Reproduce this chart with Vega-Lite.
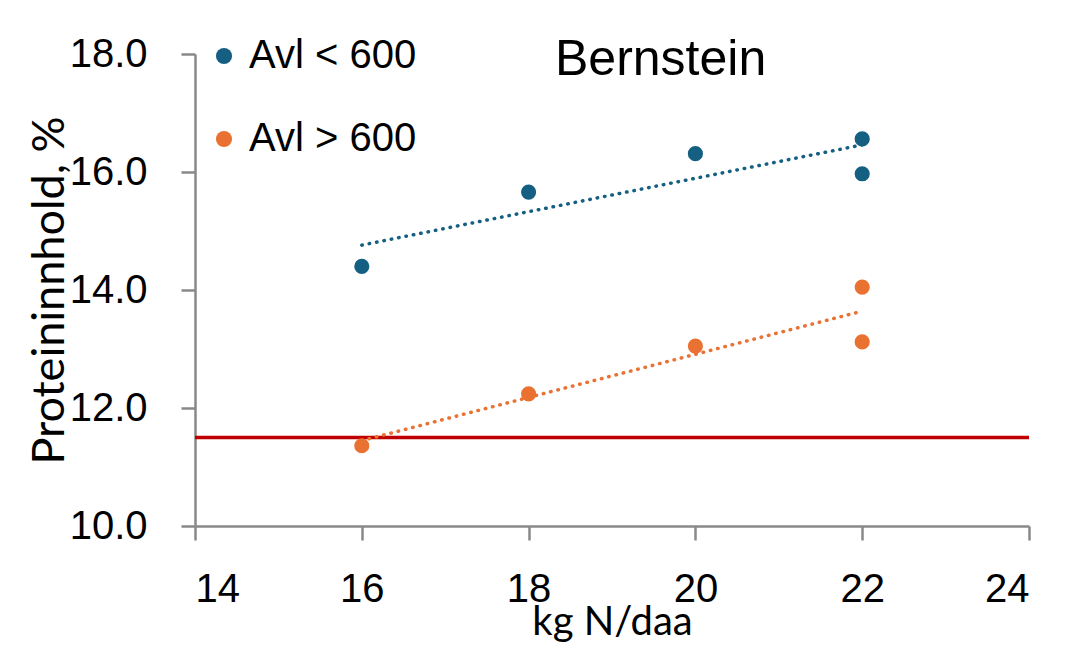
{
  "$schema": "https://vega.github.io/schema/vega-lite/v6.json",
  "width": 834,
  "height": 472,
  "autosize": "none",
  "padding": {"left": 195, "top": 54, "right": 55, "bottom": 131},
  "background": "white",
  "config": {
    "view": {"stroke": null},
    "font": "Liberation Sans",
    "axis": {
      "grid": false,
      "domainColor": "#898989",
      "domainWidth": 2.5,
      "tickColor": "#898989",
      "tickWidth": 2.5,
      "tickSize": 14,
      "labelFont": "Liberation Sans",
      "labelFontSize": 40,
      "labelColor": "black",
      "titleFont": "Lato",
      "titleFontSize": 40,
      "titleFontWeight": "normal",
      "titleColor": "black"
    }
  },
  "title": {
    "text": "Bernstein",
    "fontSize": 50,
    "font": "Liberation Sans",
    "fontWeight": "normal",
    "color": "black",
    "anchor": "start",
    "frame": "group",
    "baseline": "alphabetic",
    "offset": -91,
    "dx": 360
  },
  "datasets": {
    "points": [
      {"gruppe": "Avl < 600", "n": 16, "protein": 14.4},
      {"gruppe": "Avl < 600", "n": 18, "protein": 15.66},
      {"gruppe": "Avl < 600", "n": 20, "protein": 16.31},
      {"gruppe": "Avl < 600", "n": 22, "protein": 16.56},
      {"gruppe": "Avl < 600", "n": 22, "protein": 15.97},
      {"gruppe": "Avl > 600", "n": 16, "protein": 11.36},
      {"gruppe": "Avl > 600", "n": 18, "protein": 12.24},
      {"gruppe": "Avl > 600", "n": 20, "protein": 13.05},
      {"gruppe": "Avl > 600", "n": 22, "protein": 14.05},
      {"gruppe": "Avl > 600", "n": 22, "protein": 13.12}
    ],
    "threshold": [{"grense": 11.5}]
  },
  "layer": [
    {
      "data": {"name": "threshold"},
      "mark": {"type": "rule", "color": "#C00000", "strokeWidth": 3.5},
      "encoding": {
        "y": {"field": "grense", "type": "quantitative", "scale": {"domain": [10, 18]}}
      }
    },
    {
      "data": {"name": "points"},
      "transform": [
        {"filter": "datum.gruppe === 'Avl < 600'"},
        {"regression": "protein", "on": "n"}
      ],
      "mark": {"type": "line", "color": "#156082", "strokeWidth": 3.5, "strokeDash": [0.5, 7], "strokeCap": "round"},
      "encoding": {
        "x": {"field": "n", "type": "quantitative"},
        "y": {"field": "protein", "type": "quantitative"}
      }
    },
    {
      "data": {"name": "points"},
      "transform": [
        {"filter": "datum.gruppe === 'Avl > 600'"},
        {"regression": "protein", "on": "n"}
      ],
      "mark": {"type": "line", "color": "#E97132", "strokeWidth": 3.5, "strokeDash": [0.5, 7], "strokeCap": "round"},
      "encoding": {
        "x": {"field": "n", "type": "quantitative"},
        "y": {"field": "protein", "type": "quantitative"}
      }
    },
    {
      "data": {"name": "points"},
      "mark": {"type": "point", "filled": true, "opacity": 1, "size": 230, "shape": "circle"},
      "encoding": {
        "x": {
          "field": "n", "type": "quantitative",
          "scale": {"domain": [14, 24], "nice": false, "zero": false},
          "axis": {
            "values": [14, 16, 18, 20, 22, 24],
            "format": "d",
            "labelPadding": 29,
            "title": "kg N/daa",
            "titleBaseline": "alphabetic",
            "titleY": 108
          }
        },
        "y": {
          "field": "protein", "type": "quantitative",
          "scale": {"domain": [10, 18], "nice": false, "zero": false},
          "axis": {
            "values": [10, 12, 14, 16, 18],
            "format": ".1f",
            "labelPadding": 34,
            "title": "Proteininnhold, %",
            "titleFontSize": 45,
            "titleBaseline": "alphabetic",
            "titleX": -132
          }
        },
        "color": {
          "field": "gruppe", "type": "nominal",
          "scale": {"domain": ["Avl < 600", "Avl > 600"], "range": ["#156082", "#E97132"]},
          "legend": {
            "title": null,
            "orient": "none",
            "legendX": 9,
            "legendY": -18,
            "symbolType": "circle",
            "symbolSize": 260,
            "labelFontSize": 40,
            "labelColor": "black",
            "labelOffset": 5,
            "rowPadding": 43,
            "labelLimit": 400
          }
        }
      }
    }
  ]
}
